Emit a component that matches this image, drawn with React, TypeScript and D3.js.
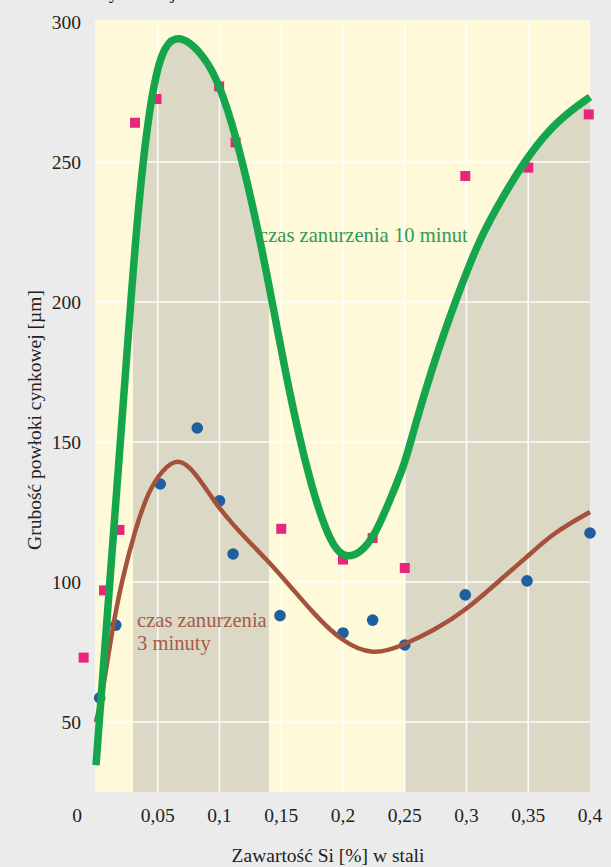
import * as d3 from "d3";

// 10 min immersion: measured points (pink squares)
const sq10x = [-0.01, 0.0065, 0.019, 0.0316, 0.049, 0.0997, 0.113, 0.15, 0.2, 0.224, 0.25, 0.299, 0.35, 0.399];
const sq10y = [73, 97, 118.6, 264, 272.5, 277, 257, 119, 108, 115.7, 105, 245, 248, 267];

// 3 min immersion: measured points (blue circles)
const dot3x = [0.003, 0.016, 0.052, 0.082, 0.1, 0.111, 0.149, 0.2, 0.224, 0.25, 0.299, 0.349, 0.4];
const dot3y = [58.6, 84.6, 135, 155, 129, 110, 88, 81.8, 86.4, 77.5, 95.4, 100.4, 117.5];

// fitted curve, 10 min (green)
const fit10x = [0, 0.0113, 0.0235, 0.0332, 0.0437, 0.0535, 0.064, 0.076, 0.0883, 0.0989, 0.1134, 0.1288, 0.141, 0.153, 0.165, 0.1775, 0.1896, 0.2, 0.214, 0.226, 0.238, 0.25, 0.257, 0.276, 0.295, 0.311, 0.33, 0.349, 0.3736, 0.4];
const fit10y = [34.6, 100.7, 172, 231, 272, 290.5, 295, 293, 287, 279, 259.6, 231, 204, 175.7, 150.7, 129.3, 114.5, 108.5, 110, 116.8, 129.3, 142, 154, 182, 205, 223, 238, 251.8, 265, 273.2];

// fitted curve, 3 min (brown)
const fit3x = [0, 0.0049, 0.013, 0.021, 0.0316, 0.042, 0.0535, 0.0665, 0.08, 0.0964, 0.11, 0.1224, 0.141, 0.16, 0.176, 0.198, 0.2245, 0.249, 0.273, 0.3, 0.327, 0.349, 0.37, 0.4];
const fit3y = [50, 58.9, 82.9, 100.7, 118.6, 132, 140, 144.5, 139.5, 128.2, 121, 115, 106.8, 97.1, 88.9, 79, 73.5, 77.5, 82.5, 90, 100.7, 108.9, 117.5, 125];

const shadedRanges = [[0.03, 0.14], [0.25, 0.4]];
const xTicks = [0, 0.05, 0.1, 0.15, 0.2, 0.25, 0.3, 0.35, 0.4];
const yTicks = [50, 100, 150, 200, 250, 300];
const fmt = (v: number) => String(v).replace(".", ",");

const W = 611;
const H = 867;
const font = "Liberation Serif";
// fontconfig swaps the serif face above 17px, so draw at 17 and scale up
const BASE = 17;

function Label({ x, y, size = 19.5, anchor = "start", fill = "#222", rotate = 0, children }: any) {
  return (
    <text
      transform={`translate(${x},${y}) rotate(${rotate}) scale(${size / BASE})`}
      fontFamily={font}
      fontSize={BASE}
      fill={fill}
      textAnchor={anchor}
    >
      {children}
    </text>
  );
}

export default function App() {
  const x = d3.scaleLinear([0, 0.4], [96, 590]);
  const y = d3.scaleLinear([25, 300], [792, 22]);

  const pts10 = fit10x.map((v, i) => [v, fit10y[i]] as [number, number]);
  const pts3 = fit3x.map((v, i) => [v, fit3y[i]] as [number, number]);

  const curve = d3.curveBasis;
  const line = d3
    .line<[number, number]>()
    .x((d) => x(d[0]))
    .y((d) => y(d[1]))
    .curve(curve);
  const area = d3
    .area<[number, number]>()
    .x((d) => x(d[0]))
    .y0(y(25))
    .y1((d) => y(d[1]))
    .curve(curve);

  return (
    <div style={{ position: "fixed", left: 0, top: 0 }}>
      <svg width={W} height={H} style={{ display: "block" }}>
        <rect width={W} height={H} fill="#ebebeb" />
        <rect x={x(0) - 1} y={20} width={x(0.4) - x(0) + 1} height={y(25) - 20} fill="#fdf9d9" />
        <defs>
          <clipPath id="shade">
            {shadedRanges.map((r, i) => (
              <rect key={i} x={x(r[0])} y={0} width={x(r[1]) - x(r[0])} height={H} />
            ))}
          </clipPath>
        </defs>
        <path d={area(pts10) ?? ""} fill="#dbd8c6" clipPath="url(#shade)" />
        <g stroke="#ffffff" strokeWidth={1.6} opacity={0.9}>
          {xTicks.slice(1, -1).map((t) => (
            <line key={t} x1={x(t)} x2={x(t)} y1={20} y2={y(25)} />
          ))}
          {yTicks.slice(0, -1).map((t) => (
            <line key={t} x1={x(0)} x2={x(0.4)} y1={y(t)} y2={y(t)} />
          ))}
        </g>
        <g fill="#e5287c">
          {sq10x.map((v, i) => (
            <rect key={i} x={x(v) - 5} y={y(sq10y[i]) - 5} width={10} height={10} />
          ))}
        </g>
        <g fill="#1e5f9f">
          {dot3x.map((v, i) => (
            <circle key={i} cx={x(v)} cy={y(dot3y[i])} r={5.8} />
          ))}
        </g>
        <path d={line(pts3) ?? ""} fill="none" stroke="#a4523c" strokeWidth={4.5} />
        <path d={line(pts10) ?? ""} fill="none" stroke="#15a64c" strokeWidth={7.5} />

        <Label x={259} y={242} size={20.6} fill="#2f9a55">czas zanurzenia 10 minut</Label>
        <Label x={137} y={627} size={20.6} fill="#a85a48">czas zanurzenia</Label>
        <Label x={137} y={650} size={20.6} fill="#a85a48">3 minuty</Label>

        {yTicks.map((t) => (
          <Label key={t} x={81} y={y(t) + 6.5} anchor="end">{t}</Label>
        ))}
        {xTicks.map((t) => (
          <Label key={t} x={t === 0 ? x(t) - 19 : x(t)} y={822} anchor="middle">{fmt(t)}</Label>
        ))}
        <Label x={328} y={862} anchor="middle">Zawartość Si [%] w stali</Label>
        <Label x={41} y={420} anchor="middle" rotate={-90}>Grubość powłoki cynkowej [µm]</Label>
        <Label x={100} y={-1}>cynkowej</Label>
      </svg>
    </div>
  );
}
